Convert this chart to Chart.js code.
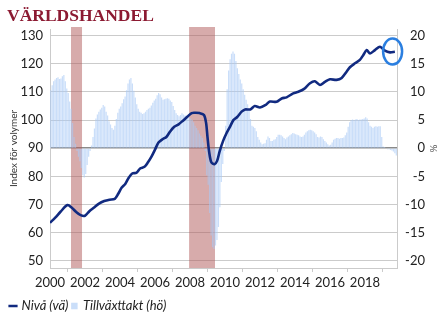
<!DOCTYPE html>
<html>
<head>
<meta charset="utf-8">
<script src="https://cdn.jsdelivr.net/npm/chart.js@4.4.1/dist/chart.umd.min.js"></script>
<style>
  html, body { margin: 0; padding: 0; background: #fff; }
  #wrap { width: 446px; height: 327px; position: relative; }
</style>
</head>
<body>
<div id="wrap"><canvas id="trade"></canvas></div>
<script>
// Tillväxttakt (hö), % y/y, monthly from Jan 2000
const growthStart = 2000;
const growthRate = [
  10.3, 11.2, 11.9, 12.2, 12.5, 12.6, 12.3, 12.4, 12.8, 13.0, 11.9, 10.6,
  9.8, 8.3, 7.0, 4.5, 2.0, 0.8, -0.5, -1.5, -2.3, -3.5, -4.8, -5.2,
  -4.6, -3.0, -1.5, -0.5, 0.5, 2.0, 3.5, 5.3, 6.0, 6.5, 6.9, 7.2,
  7.7, 7.4, 6.5, 5.8, 4.8, 4.2, 3.6, 3.3, 4.0, 5.2, 6.3, 7.0,
  7.4, 8.0, 8.7, 9.2, 10.3, 11.5, 12.2, 12.5, 11.5, 10.2, 9.0, 7.8,
  7.0, 6.5, 6.3, 6.1, 6.2, 6.5, 6.8, 7.0, 7.2, 7.6, 8.1, 8.5,
  8.8, 9.4, 9.8, 9.6, 9.0, 8.6, 8.7, 8.8, 8.9, 8.8, 8.5, 8.2,
  7.5, 6.8, 6.2, 5.9, 5.7, 5.9, 6.2, 6.0, 5.8, 5.8, 5.6, 5.4,
  5.3, 5.0, 4.6, 4.0, 3.6, 3.2, 2.6, 2.2, 1.8, 1.0, -0.5, -4.8,
  -6.5, -11.5, -15.5, -17.6, -17.9, -17.3, -16.3, -14.0, -10.5, -6.0, -2.8, -0.5,
  4.0, 10.5, 13.8, 15.8, 16.8, 17.2, 16.8, 15.5, 14.2, 13.2, 12.2, 11.5,
  10.5, 9.5, 8.6, 7.8, 6.8, 5.2, 4.0, 3.8, 3.6, 3.0, 2.0, 1.5,
  1.0, 0.7, 0.8, 0.9, 1.5, 2.1, 1.8, 1.3, 1.3, 1.5, 1.6, 2.0,
  2.4, 2.4, 2.3, 2.1, 1.8, 1.6, 1.9, 2.1, 2.3, 2.5, 2.7, 2.6,
  2.5, 2.4, 2.3, 2.1, 2.0, 2.1, 2.4, 2.8, 3.0, 3.2, 3.3, 3.2,
  3.0, 2.8, 2.5, 2.0, 1.9, 2.1, 2.0, 1.6, 1.3, 1.0, 0.7, 0.5,
  0.6, 1.0, 1.5, 1.7, 1.8, 1.8, 1.7, 1.8, 1.8, 1.9, 2.3, 2.8,
  3.8, 4.6, 5.0, 5.1, 5.0, 5.1, 5.2, 5.0, 5.1, 5.1, 5.2, 5.3,
  5.5, 5.3, 4.6, 4.0, 3.8, 3.6, 3.8, 3.9, 3.8, 3.9, 3.9, 2.0,
  0.3, 0.2, 0.0, -0.2, -0.2, -0.3, -0.4, -0.6, -0.9, -1.3
];

// Nivå (vä), index för volymer
const levelYears = [
  2000.0, 2000.3, 2000.6, 2001.0, 2001.25, 2001.5, 2001.75, 2002.0, 2002.25, 2002.5,
  2002.8, 2003.1, 2003.4, 2003.7, 2003.9, 2004.1, 2004.3, 2004.5, 2004.7, 2004.95,
  2005.15, 2005.4, 2005.6, 2005.8, 2006.0, 2006.2, 2006.45, 2006.65, 2006.85, 2007.1,
  2007.35, 2007.6, 2007.85, 2008.1, 2008.3, 2008.55, 2008.8, 2008.92, 2009.0, 2009.1,
  2009.22, 2009.4, 2009.55, 2009.7, 2009.9, 2010.1, 2010.3, 2010.48, 2010.7, 2010.95,
  2011.15, 2011.45, 2011.7, 2012.0, 2012.3, 2012.57, 2012.95, 2013.24, 2013.52, 2013.9,
  2014.2, 2014.5, 2014.86, 2015.14, 2015.43, 2015.71, 2016.0, 2016.38, 2016.67, 2016.95,
  2017.14, 2017.43, 2017.71, 2017.9, 2018.1, 2018.29, 2018.57, 2018.86, 2019.14, 2019.43,
  2019.71
];
const levelValues = [
  63.5, 65.3, 67.4, 69.8, 68.8, 67.3, 66.2, 66.0, 67.6, 68.8,
  70.3, 71.2, 71.7, 72.0, 73.8, 76.0, 77.3, 79.5, 81.0, 81.3,
  82.8, 83.4, 85.0, 87.0, 89.5, 92.0, 93.3, 94.0, 95.8, 97.6,
  98.5, 99.8, 101.2, 102.5, 102.6, 102.5, 101.8, 99.0, 94.0, 88.5,
  85.0, 84.3, 85.5, 89.0, 92.7, 95.5, 97.8, 100.0, 101.1, 103.0,
  103.8, 103.8, 105.0, 104.5, 105.3, 106.6, 106.5, 107.7, 108.1, 109.5,
  110.1, 111.0, 113.1, 113.8, 112.5, 113.6, 114.5, 114.3, 115.0, 117.2,
  118.8, 120.2, 121.4, 123.1, 124.9, 123.7, 124.9, 126.1, 124.7, 124.1,
  124.3
];

// recessionsperioder (skuggade fält)
const recessionStart = [2001.2, 2007.95];
const recessionEnd = [2001.83, 2009.43];

// markering kring senaste utfall
const highlightPoint = [2019.58, 124.4];

const yearTicks = [2000, 2002, 2004, 2006, 2008, 2010, 2012, 2014, 2016, 2018];

const growthPoints = growthRate.map((v, i) => ({ x: growthStart + (i + 0.5) / 12, y: v }));
const levelPoints = levelYears.map((yr, i) => ({ x: yr, y: levelValues[i] }));

const recessionBands = {
    id: 'recessionBands',
    beforeDatasetsDraw(chart) {
        const { ctx, chartArea, scales } = chart;
        ctx.save();
        ctx.fillStyle = 'rgba(175, 88, 88, 0.5)';
        recessionStart.forEach((s, i) => {
            const x0 = scales.x.getPixelForValue(s);
            const x1 = scales.x.getPixelForValue(recessionEnd[i]);
            ctx.fillRect(x0, chartArea.top - 2, x1 - x0, chartArea.bottom - chartArea.top + 2);
        });
        ctx.restore();
    }
};

const highlight = {
    id: 'highlight',
    afterDatasetsDraw(chart) {
        const { ctx, scales } = chart;
        const cx = scales.x.getPixelForValue(highlightPoint[0]);
        const cy = scales.y.getPixelForValue(highlightPoint[1]);
        ctx.save();
        ctx.strokeStyle = '#2b7fe0';
        ctx.lineWidth = 2.5;
        ctx.beginPath();
        ctx.ellipse(cx, cy, 9.5, 13, 0, 0, Math.PI * 2);
        ctx.stroke();
        ctx.restore();
    }
};

// "%" on the right side, rotated like an axis title
const rightTitle = {
    id: 'rightTitle',
    afterDraw(chart) {
        const { ctx, chartArea, scales } = chart;
        ctx.save();
        ctx.translate(scales.y1.right + 8, (chartArea.top + chartArea.bottom) / 2);
        ctx.rotate(Math.PI / 2);
        ctx.font = '10px Lato';
        ctx.fillStyle = '#555';
        ctx.textAlign = 'center';
        ctx.textBaseline = 'middle';
        ctx.fillText('%', 0, 0);
        ctx.restore();
    }
};

const gridGrey = '#cbcbcb';
const tickFont = { family: 'Lato', size: 13 };

new Chart(document.getElementById('trade'), {
    type: 'bar',
    data: {
        datasets: [{
            type: 'line',
            label: 'Nivå (vä)',
            data: levelPoints,
            yAxisID: 'y',
            borderColor: '#112a80',
            backgroundColor: '#112a80',
            borderWidth: 2.6,
            pointRadius: 0,
            pointStyle: 'line',
            tension: 0.3
        }, {
            type: 'bar',
            label: 'Tillväxttakt (hö)',
            data: growthPoints,
            yAxisID: 'y1',
            backgroundColor: 'rgba(170, 202, 246, 0.62)',
            borderWidth: 0,
            barPercentage: 0.85,
            categoryPercentage: 1,
            pointStyle: 'rect'
        }]
    },
    options: {
        responsive: true,
        maintainAspectRatio: false,
        animation: false,
        layout: { padding: { left: 7, right: 21, top: 0, bottom: 4.5 } },
        scales: {
            x: {
                type: 'linear',
                offset: false,
                min: 2000,
                max: 2019.86,
                afterFit: s => { s.height = 27.5; },
                afterBuildTicks: s => { s.ticks = yearTicks.map(v => ({ value: v })); },
                ticks: {
                    font: tickFont,
                    color: '#222',
                    padding: 3,
                    maxRotation: 0,
                    autoSkip: false,
                    callback: v => String(v)
                },
                grid: { drawOnChartArea: false, drawTicks: true, tickLength: 4, color: gridGrey },
                border: { color: gridGrey }
            },
            y: {
                position: 'left',
                min: 47.4,
                max: 132.4,
                afterFit: s => { s.width = 43; },
                ticks: { stepSize: 10, includeBounds: false, font: tickFont, color: '#222', padding: 7 },
                grid: {
                    drawTicks: false,
                    color: c => c.tick && c.tick.value === 90 ? '#8a8a8a' : gridGrey,
                    lineWidth: c => c.tick && c.tick.value === 90 ? 1.6 : 1
                },
                border: { color: gridGrey },
                title: {
                    display: true,
                    text: 'Index för volymer',
                    font: { family: 'Lato', size: 10 },
                    color: '#333',
                    padding: { top: 1, bottom: 0 }
                }
            },
            y1: {
                position: 'right',
                min: -21.3,
                max: 21.2,
                afterFit: s => { s.width = 27.5; },
                ticks: { stepSize: 5, includeBounds: false, font: tickFont, color: '#222', crossAlign: 'far' },
                grid: { drawOnChartArea: false, drawTicks: false },
                border: { color: gridGrey }
            }
        },
        plugins: {
            title: {
                display: true,
                text: 'VÄRLDSHANDEL',
                align: 'start',
                color: '#8c1a32',
                font: { family: 'Liberation Serif', size: 17.5, weight: 'bold' },
                padding: { top: 6, bottom: 2 }
            },
            legend: {
                position: 'bottom',
                align: 'start',
                labels: {
                    usePointStyle: true,
                    boxWidth: 4,
                    boxHeight: 6.5,
                    padding: 4,
                    color: '#222',
                    font: { family: 'Lato', size: 13, style: 'italic' }
                }
            },
            tooltip: { enabled: false }
        }
    },
    plugins: [recessionBands, highlight, rightTitle]
});
</script>
</body>
</html>
